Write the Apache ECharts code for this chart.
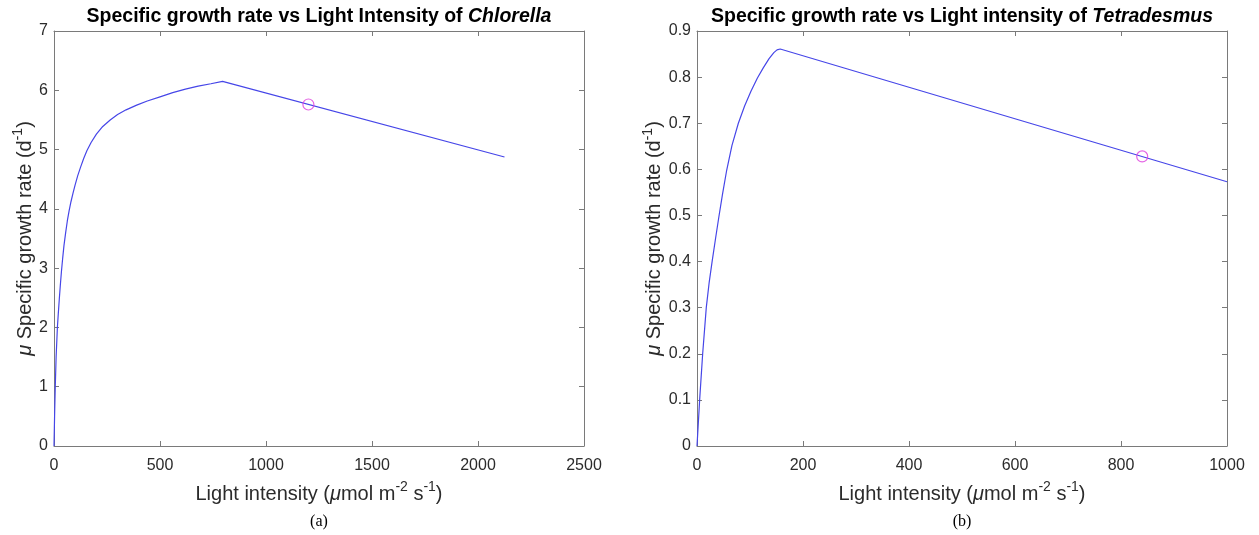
<!DOCTYPE html>
<html>
<head>
<meta charset="utf-8">
<script src="https://cdn.jsdelivr.net/npm/echarts@6/dist/echarts.min.js"></script>
<style>
html,body{margin:0;padding:0;background:#fff;}
#chart{width:1259px;height:535px;}
</style>
</head>
<body>
<div id="chart"></div>
<script>
// ---- Data ----
const chlorellaLight = [0, 3, 6, 10, 16, 20, 25, 30, 35, 41, 47, 55, 63, 71, 80, 90, 100, 112, 125, 140, 155, 175, 200, 230, 265, 300, 340, 390, 440, 500, 560, 620, 680, 740, 795, 2125];
const chlorellaRate  = [0, 0.55, 1.0, 1.5, 2.0, 2.22, 2.48, 2.72, 2.94, 3.17, 3.38, 3.6, 3.8, 3.96, 4.12, 4.27, 4.41, 4.56, 4.7, 4.85, 4.98, 5.12, 5.26, 5.39, 5.5, 5.59, 5.67, 5.75, 5.82, 5.89, 5.96, 6.02, 6.07, 6.11, 6.15, 4.875];
const chlorellaMarkLight = [1200];
const chlorellaMarkRate  = [5.76];

const tetraLight = [0, 5, 10.7, 17.5, 23, 28.5, 35, 41, 48, 56, 66, 78, 90, 102, 114, 125, 136, 145, 151, 157, 1000];
const tetraRate  = [0, 0.1, 0.2, 0.3, 0.355, 0.4, 0.45, 0.495, 0.545, 0.598, 0.652, 0.7, 0.738, 0.77, 0.798, 0.82, 0.84, 0.853, 0.859, 0.861, 0.573];
const tetraMarkLight = [840];
const tetraMarkRate  = [0.628];

const chlorellaXTicks = [0, 500, 1000, 1500, 2000, 2500];
const chlorellaYTicks = [0, 1, 2, 3, 4, 5, 6, 7];
const tetraXTicks = [0, 200, 400, 600, 800, 1000];
const tetraYTicks = [0, 0.1, 0.2, 0.3, 0.4, 0.5, 0.6, 0.7, 0.8, 0.9];

const titles = [
  ['Specific growth rate vs Light Intensity of ', 'Chlorella'],
  ['Specific growth rate vs Light intensity of ', 'Tetradesmus']
];
const panelLabels = ['(a)', '(b)'];

// ---- Styling ----
const FONT = 'Liberation Sans, Arial, Helvetica, sans-serif';
const AXIS_COLOR = '#7a7a7a';
const LABEL_COLOR = '#2b2b2b';
const LINE_COLOR = '#4646e8';
const MARK_COLOR = '#dd3ddd';

const grids = [
  {left: 54, top: 31, width: 530, height: 415},
  {left: 697, top: 31, width: 530, height: 415}
];

const nameRich = {
  n: {fontSize: 20, fontFamily: FONT, color: LABEL_COLOR, lineHeight: 28},
  m: {fontSize: 20, fontFamily: FONT, color: LABEL_COLOR, fontStyle: 'italic', lineHeight: 28},
  s: {fontSize: 14, fontFamily: FONT, color: LABEL_COLOR, verticalAlign: 'top', lineHeight: 16}
};

const xName = '{n|Light intensity (}{m|\u03bc}{n|mol m}{s|-2}{n| s}{s|-1}{n|)}';
const yName = '{m|\u03bc}{n| Specific growth rate (d}{s|-1}{n|)}';

function pair(xs, ys) { return xs.map((x, i) => [x, ys[i]]); }
function fmt(v) { return String(Math.round(v * 1000) / 1000); }

function makeX(gridIndex, ticks, bottom) {
  const min = ticks[0], max = ticks[ticks.length - 1], interval = ticks[1] - ticks[0];
  return {
    type: 'value', gridIndex, min, max, interval,
    position: bottom ? 'bottom' : 'top',
    name: bottom ? xName : '',
    nameLocation: 'middle', nameGap: 34,
    nameTextStyle: {rich: nameRich},
    axisLine: {show: true, onZero: false, lineStyle: {color: AXIS_COLOR, width: 1}},
    axisTick: {show: true, inside: true, length: 5, lineStyle: {color: AXIS_COLOR}},
    axisLabel: {show: bottom, fontSize: 16, fontFamily: FONT, color: LABEL_COLOR, margin: 12,
      showMinLabel: true, showMaxLabel: true, formatter: fmt},
    splitLine: {show: false}
  };
}
function makeY(gridIndex, ticks, left, gap) {
  const min = ticks[0], max = ticks[ticks.length - 1], interval = +(ticks[1] - ticks[0]).toFixed(6);
  return {
    type: 'value', gridIndex, min, max, interval,
    position: left ? 'left' : 'right',
    name: left ? yName : '',
    nameLocation: 'middle', nameGap: gap, nameRotate: 90,
    nameTextStyle: {rich: nameRich},
    axisLine: {show: true, onZero: false, lineStyle: {color: AXIS_COLOR, width: 1}},
    axisTick: {show: true, inside: true, length: 5, lineStyle: {color: AXIS_COLOR}},
    axisLabel: {show: left, fontSize: 16, fontFamily: FONT, color: LABEL_COLOR, margin: 6,
      showMinLabel: true, showMaxLabel: true, formatter: fmt},
    splitLine: {show: false}
  };
}

const titleOpts = titles.map((t, i) => ({
  text: '{b|' + t[0] + '}{i|' + t[1] + '}',
  left: grids[i].left + grids[i].width / 2,
  top: 6,
  padding: 0,
  textAlign: 'center',
  textStyle: {
    rich: {
      b: {fontSize: 19.5, fontWeight: 'bold', fontFamily: FONT, color: '#000', lineHeight: 22},
      i: {fontSize: 19.5, fontWeight: 'bold', fontStyle: 'italic', fontFamily: FONT, color: '#000', lineHeight: 22}
    }
  }
}));
panelLabels.forEach((p, i) => {
  titleOpts.push({
    text: p,
    left: grids[i].left + grids[i].width / 2,
    top: 513,
    padding: 0,
    textAlign: 'center',
    textStyle: {fontSize: 16, fontWeight: 'normal', fontFamily: 'Liberation Serif, Times New Roman, serif', color: '#000', lineHeight: 18}
  });
});

const option = {
  animation: false,
  backgroundColor: '#fff',
  title: titleOpts,
  grid: grids,
  xAxis: [
    makeX(0, chlorellaXTicks, true), makeX(0, chlorellaXTicks, false),
    makeX(1, tetraXTicks, true), makeX(1, tetraXTicks, false)
  ],
  yAxis: [
    makeY(0, chlorellaYTicks, true, 11), makeY(0, chlorellaYTicks, false, 0),
    makeY(1, tetraYTicks, true, 12), makeY(1, tetraYTicks, false, 0)
  ],
  series: [
    {type: 'line', xAxisIndex: 0, yAxisIndex: 0, data: pair(chlorellaLight, chlorellaRate),
      showSymbol: false, symbol: 'none', lineStyle: {color: LINE_COLOR, width: 1.2}, z: 2},
    {type: 'scatter', xAxisIndex: 0, yAxisIndex: 0, data: pair(chlorellaMarkLight, chlorellaMarkRate),
      symbol: 'circle', symbolSize: 11,
      itemStyle: {color: 'rgba(0,0,0,0)', borderColor: MARK_COLOR, borderWidth: 1.2}, z: 3},
    {type: 'line', xAxisIndex: 2, yAxisIndex: 2, data: pair(tetraLight, tetraRate),
      showSymbol: false, symbol: 'none', lineStyle: {color: LINE_COLOR, width: 1.2}, z: 2},
    {type: 'scatter', xAxisIndex: 2, yAxisIndex: 2, data: pair(tetraMarkLight, tetraMarkRate),
      symbol: 'circle', symbolSize: 11,
      itemStyle: {color: 'rgba(0,0,0,0)', borderColor: MARK_COLOR, borderWidth: 1.2}, z: 3}
  ]
};

const chart = echarts.init(document.getElementById('chart'), null, {renderer: 'canvas'});
chart.setOption(option);
</script>
</body>
</html>
